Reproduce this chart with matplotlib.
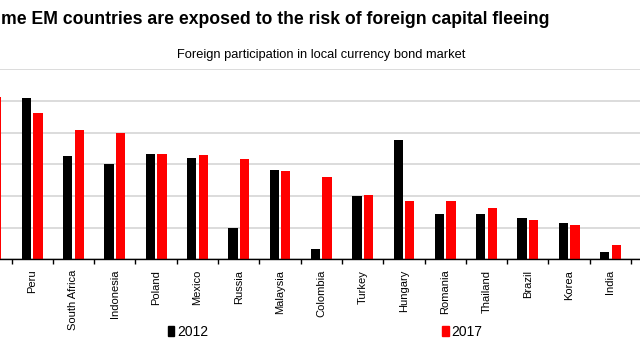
import numpy as np
import matplotlib
matplotlib.use("Agg")
import matplotlib.pyplot as plt
from matplotlib.patches import Patch

# ---- data (percent of local currency bond market held by foreigners) ----
countries = ["", "Peru", "South Africa", "Indonesia", "Poland", "Mexico", "Russia",
             "Malaysia", "Colombia", "Turkey", "Hungary", "Romania", "Thailand",
             "Brazil", "Korea", "India"]
share_2012 = [np.nan, 51.0, 32.6, 30.1, 33.2, 32.1, 9.9, 28.3, 3.2, 20.0, 37.8,
              14.2, 14.2, 12.9, 11.6, 2.2]
share_2017 = [51.2, 46.1, 40.8, 40.0, 33.1, 32.9, 31.6, 27.9, 25.9, 20.3, 18.5,
              18.4, 16.2, 12.5, 10.9, 4.6]
y_ticks = [0, 10, 20, 30, 40, 50, 60]

plt.rcParams['font.family'] = ['Liberation Sans', 'DejaVu Sans']

W, H = 640, 351
fig = plt.figure(figsize=(W / 100, H / 100), dpi=100)

top_px, base_px = 69.3, 259.3
ax = fig.add_axes([0, 1 - base_px / H, 1, (base_px - top_px) / H])

x = np.arange(len(countries))
bw = 0.225
ax.bar(x - 0.138, share_2012, bw, color="#000000", zorder=3)
ax.bar(x + 0.14, share_2017, bw, color="#ff0000", zorder=3)

ax.set_yticks(y_ticks)
ax.yaxis.grid(True, color="#d9d9d9", lw=1.3, zorder=0)
ax.tick_params(axis="y", left=False, labelleft=False)

ax.set_xticks(x)
ax.set_xticklabels(countries, rotation=90, fontsize=8)
ax.tick_params(axis="x", which="major", length=0, pad=7.5)
ax.set_xticks(np.arange(len(countries) + 1) - 0.5, minor=True)
ax.tick_params(axis="x", which="minor", length=3.5, width=1, direction="out", color="black")

# Peru centre at 32.2 px, category pitch 41.3 px
pitch = 41.3
left_idx = 1 - 32.2 / pitch
right_idx = 1 + (W - 32.2) / pitch
ax.set_xlim(left_idx, right_idx)
ax.set_ylim(y_ticks[0], y_ticks[-1])

for s in ["left", "right", "top"]:
    ax.spines[s].set_visible(False)
ax.spines["bottom"].set_color("black")
ax.spines["bottom"].set_linewidth(1.0)
ax.spines["bottom"].set_zorder(4)

# title as it is visible in the (cropped) reference
fig.text(1 / W, 1 - 20 / H,
         "me EM countries are exposed to the risk of foreign capital fleeing",
         ha="left", va="center", fontsize=12.7, fontweight="bold")
fig.text(321 / W, 1 - 55 / H, "Foreign participation in local currency bond market",
         ha="center", va="center", fontsize=9.3)

handles = [Patch(color="#000000", label="2012"), Patch(color="#ff0000", label="2017")]
fig.legend(handles=handles, loc="center", bbox_to_anchor=(325 / W, 1 - 332 / H),
           ncol=2, frameon=False, handlelength=0.5, handleheight=0.7,
           handletextpad=0.2, columnspacing=16.8,
           prop={"size": 10})

fig.savefig("out.png", dpi=100)
